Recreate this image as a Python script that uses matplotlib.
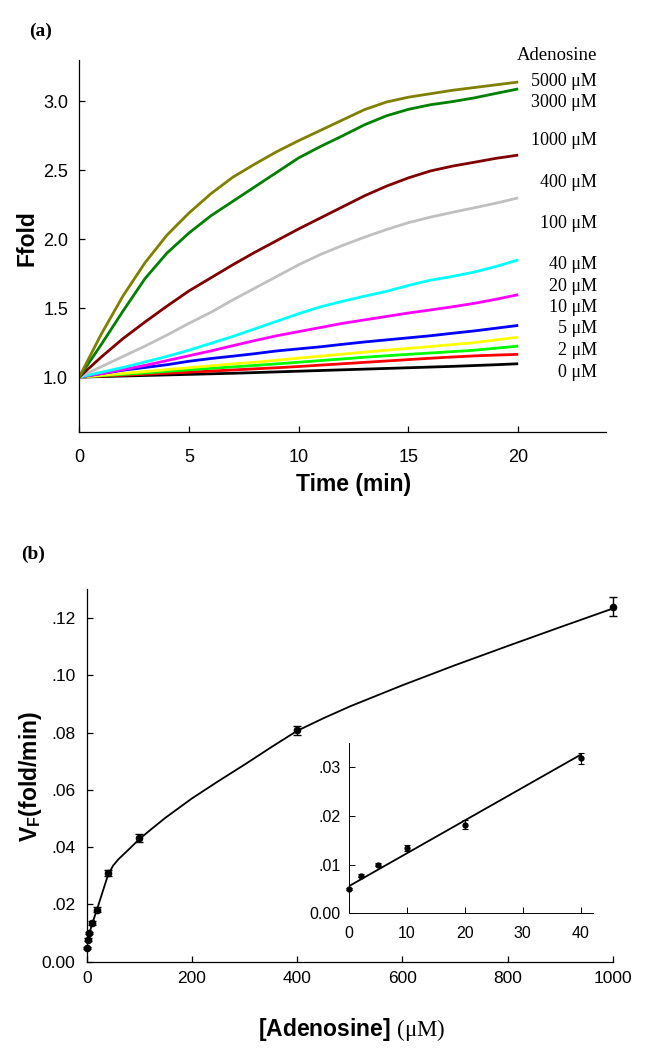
import numpy as np
import matplotlib
matplotlib.use("Agg")
import matplotlib.pyplot as plt

plt.rcParams['font.family'] = 'Liberation Sans'
plt.rcParams['mathtext.fontset'] = 'custom'
plt.rcParams['mathtext.rm'] = 'Liberation Serif'
plt.rcParams['mathtext.bf'] = 'Liberation Sans:bold'

# ---- panel (a): fluorescence fold vs time ----
time = list(range(0, 21))
f5000 = [1.0, 1.31, 1.59, 1.83, 2.03, 2.19, 2.33, 2.45, 2.545, 2.635, 2.715, 2.79, 2.865,
         2.94, 2.995, 3.03, 3.055, 3.08, 3.10, 3.12, 3.14]
f3000 = [1.0, 1.235, 1.48, 1.715, 1.90, 2.045, 2.17, 2.275, 2.38, 2.485, 2.59, 2.673, 2.75,
         2.83, 2.895, 2.942, 2.975, 2.998, 3.025, 3.058, 3.09]
f1000 = [1.0, 1.145, 1.28, 1.40, 1.515, 1.625, 1.72, 1.815, 1.905, 1.99, 2.075, 2.155, 2.235,
         2.315, 2.385, 2.445, 2.495, 2.53, 2.558, 2.587, 2.61]
f400 = [1.0, 1.075, 1.15, 1.225, 1.305, 1.39, 1.47, 1.56, 1.645, 1.73, 1.815, 1.89, 1.955,
        2.015, 2.07, 2.12, 2.16, 2.195, 2.228, 2.262, 2.30]
f100 = [1.0, 1.035, 1.07, 1.11, 1.15, 1.195, 1.245, 1.295, 1.35, 1.405, 1.46, 1.51, 1.55,
        1.587, 1.622, 1.665, 1.703, 1.73, 1.762, 1.803, 1.85]
f40 = [1.0, 1.025, 1.055, 1.085, 1.12, 1.155, 1.19, 1.228, 1.265, 1.30, 1.33, 1.36, 1.39,
       1.415, 1.44, 1.465, 1.487, 1.51, 1.535, 1.565, 1.598]
f20 = [1.0, 1.025, 1.05, 1.07, 1.09, 1.115, 1.135, 1.152, 1.17, 1.19, 1.205, 1.22, 1.238,
       1.255, 1.27, 1.285, 1.30, 1.318, 1.335, 1.355, 1.375]
f10 = [1.0, 1.013, 1.027, 1.04, 1.055, 1.068, 1.082, 1.096, 1.108, 1.122, 1.138, 1.152, 1.167,
       1.181, 1.195, 1.208, 1.222, 1.236, 1.25, 1.27, 1.29]
f5 = [1.0, 1.01, 1.02, 1.03, 1.042, 1.053, 1.064, 1.074, 1.085, 1.096, 1.108, 1.12, 1.132,
      1.144, 1.155, 1.165, 1.175, 1.185, 1.195, 1.21, 1.225]
f2 = [1.0, 1.007, 1.014, 1.021, 1.028, 1.036, 1.044, 1.052, 1.06, 1.068, 1.077, 1.087, 1.097,
      1.107, 1.117, 1.127, 1.137, 1.146, 1.154, 1.16, 1.165]
f0 = [1.0, 1.004, 1.008, 1.012, 1.016, 1.02, 1.024, 1.028, 1.033, 1.038, 1.043, 1.048, 1.053,
      1.058, 1.063, 1.068, 1.073, 1.078, 1.084, 1.09, 1.097]

series_a = [f0, f2, f5, f10, f20, f40, f100, f400, f1000, f3000, f5000]
colors_a = ['black', '#ff0000', '#00ff00', '#ffff00', '#0000ff', '#ff00ff',
            '#00ffff', '#c0c0c0', '#800000', '#008000', '#808000']
conc_labels = ['5000 μM', '3000 μM', '1000 μM', '400 μM', '100 μM', '40 μM',
               '20 μM', '10 μM', '5 μM', '2 μM', '0 μM']
label_ypos = [3.144, 2.993, 2.713, 2.411, 2.115, 1.818, 1.660, 1.508, 1.353, 1.194, 1.036]

# ---- panel (b): rate vs adenosine ----
aden = [0, 2, 5, 10, 20, 40, 100, 400, 1000]
rate = [0.0049, 0.0077, 0.0100, 0.0134, 0.0182, 0.0310, 0.0432, 0.0808, 0.1239]
rate_err = [0.0003, 0.0004, 0.0005, 0.0007, 0.0010, 0.0010, 0.0014, 0.0015, 0.0033]

curve_x = [0, 2, 5, 10, 20, 40, 50, 60, 80, 100, 125, 150, 200, 250, 300, 350, 400,
           450, 500, 600, 700, 800, 900, 1000]
curve_y = [0.0056, 0.0075, 0.0098, 0.0130, 0.0185, 0.0300, 0.0335, 0.0357, 0.0392, 0.0428,
           0.0466, 0.0503, 0.0570, 0.0630, 0.0688, 0.0748, 0.0806, 0.0850, 0.0891,
           0.0965, 0.1035, 0.1102, 0.1168, 0.1233]

# inset (low concentrations)
ins_x = [0, 2, 5, 10, 20, 40]
ins_y = [0.0049, 0.0077, 0.0100, 0.0134, 0.0182, 0.0318]
ins_err = [0.0002, 0.0003, 0.0004, 0.0007, 0.0010, 0.0011]
fit_x = [0, 40]
fit_y = [0.0056, 0.0325]

fig = plt.figure(figsize=(6.48, 10.5), dpi=100)

def style(ax, size):
    ax.spines['top'].set_visible(False)
    ax.spines['right'].set_visible(False)
    for s in ('left', 'bottom'):
        ax.spines[s].set_linewidth(0.9)
    ax.tick_params(direction='in', length=4.5, width=0.9, labelsize=size)

# (a)
ax1 = fig.add_axes([0.1222, 0.5883, 0.8130, 0.3546])
for ys, c in zip(series_a, colors_a):
    ax1.plot(time, ys, color=c, lw=2.0, solid_capstyle='butt', solid_joinstyle='round')
ax1.set_xlim(0, 24)
ax1.set_ylim(0.6, 3.3)
ax1.set_xticks([0, 5, 10, 15, 20])
ax1.set_yticks([1.0, 1.5, 2.0, 2.5, 3.0])
ax1.set_yticklabels(['1.0', '1.5', '2.0', '2.5', '3.0'])
style(ax1, 13)
ax1.tick_params(axis='x', pad=12)
ax1.tick_params(axis='y', pad=8)
ax1.text(23.6, 3.33, 'Adenosine', family='Liberation Serif', fontsize=13.5,
         ha='right', va='center', clip_on=False)
for lab, yp in zip(conc_labels, label_ypos):
    ax1.text(23.6, yp, lab, family='Liberation Serif', fontsize=13,
             ha='right', va='center')

fig.text(0.0448, 0.9698, '(a)', family='Liberation Serif', fontweight='bold',
         fontsize=14, va='center', ha='left')
fig.text(0.0417, 0.7733, 'Ffold', fontweight='bold', fontsize=16.5,
         rotation=90, ha='center', va='center')
fig.text(0.546, 0.539, 'Time (min)', fontweight='bold', fontsize=16.5,
         ha='center', va='center')

# (b)
ax2 = fig.add_axes([0.1338, 0.0841, 0.8122, 0.3547])
ax2.plot(curve_x, curve_y, color='black', lw=1.3)
ax2.errorbar(aden, rate, yerr=rate_err, fmt='o', color='black', ms=4.5,
             elinewidth=1.0, capsize=3, capthick=1.0, clip_on=False, zorder=3)
ax2.set_xlim(0, 1000)
ax2.set_ylim(0, 0.13)
ax2.set_xticks([0, 200, 400, 600, 800, 1000])
ax2.set_yticks([0, 0.02, 0.04, 0.06, 0.08, 0.10, 0.12])
ax2.set_yticklabels(['0.00', '.02', '.04', '.06', '.08', '.10', '.12'])
style(ax2, 12.5)
ax2.tick_params(axis='x', pad=7)
ax2.tick_params(axis='y', pad=8)

fig.text(0.0324, 0.4724, '(b)', family='Liberation Serif', fontweight='bold',
         fontsize=14, va='center', ha='left')
fig.text(0.0463, 0.2603, r'V$_\mathbf{F}$(fold/min)', fontweight='bold',
         fontsize=16.5, rotation=90, ha='center', va='center')
fig.text(0.5424, 0.0193, r'[Adenosine] $\mathrm{(μM)}$', fontweight='bold',
         fontsize=16.5, ha='center', va='center')

# inset
ax3 = fig.add_axes([0.5390, 0.1302, 0.3757, 0.1626])
ax3.plot(fit_x, fit_y, color='black', lw=1.3)
ax3.errorbar(ins_x, ins_y, yerr=ins_err, fmt='o', color='black', ms=3.5,
             elinewidth=0.8, capsize=2.5, capthick=0.8, clip_on=False, zorder=3)
ax3.set_xlim(0, 42.1)
ax3.set_ylim(0, 0.035)
ax3.set_xticks([0, 10, 20, 30, 40])
ax3.set_yticks([0, 0.01, 0.02, 0.03])
ax3.set_yticklabels(['0.00', '.01', '.02', '.03'])
style(ax3, 11.5)
for s in ('left', 'bottom'):
    ax3.spines[s].set_linewidth(0.7)
ax3.tick_params(width=0.7, length=4)
ax3.tick_params(axis='x', pad=9)
ax3.tick_params(axis='y', pad=6)

fig.savefig('out.png', dpi=100)
